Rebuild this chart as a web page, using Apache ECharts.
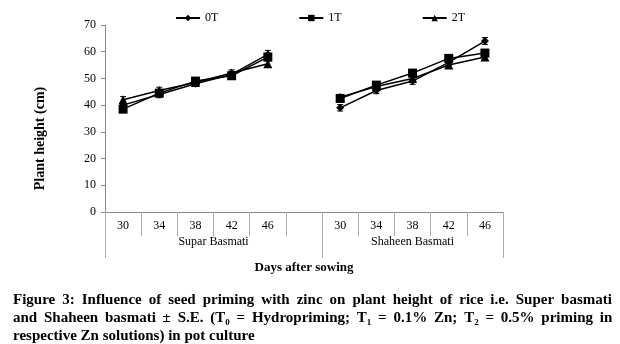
<!DOCTYPE html>
<html><head><meta charset="utf-8">
<script src="https://cdn.jsdelivr.net/npm/echarts@6/dist/echarts.min.js"></script>
<style>html,body{margin:0;padding:0;background:#fff}#c{width:620px;height:344px}</style>
</head><body><div id="c"></div>
<script>
const days = ['30','34','38','42','46'];
const groups = ['Supar Basmati','Shaheen Basmati'];
const seriesNames = ['0T','1T','2T'];
// Super Basmati
const super0T = [40.0, 44.0, 48.0, 51.5, 59.0];
const super1T = [38.5, 44.5, 49.0, 51.0, 58.0];
const super2T = [42.0, 45.5, 48.5, 52.0, 55.5];
// Shaheen Basmati
const shaheen0T = [39.0, 45.5, 49.0, 56.0, 64.0];
const shaheen1T = [42.5, 47.5, 52.0, 57.5, 59.5];
const shaheen2T = [43.0, 47.0, 50.0, 55.0, 58.0];
// standard errors
const superErr0T = [1.2, 1.2, 1.0, 1.2, 1.5];
const superErr1T = [1.0, 1.0, 1.0, 1.0, 1.3];
const superErr2T = [1.2, 1.2, 1.2, 1.2, 1.0];
const shaheenErr0T = [1.2, 1.2, 1.2, 1.2, 1.3];
const shaheenErr1T = [1.2, 1.0, 1.0, 1.2, 1.2];
const shaheenErr2T = [1.0, 1.2, 1.0, 1.2, 1.0];
const yTicks = [0,10,20,30,40,50,60,70];

const categories = days.concat([''], days);
const join = (a, b) => a.concat([null], b);
const vals = [join(super0T, shaheen0T), join(super1T, shaheen1T), join(super2T, shaheen2T)];
const errs = [join(superErr0T, shaheenErr0T), join(superErr1T, shaheenErr1T), join(superErr2T, shaheenErr2T)];
const symbols = ['diamond','rect','triangle'];
const symbolSizes = [8, 9, 9];
const font = 'Liberation Serif';

const series = [];
seriesNames.forEach((n, k) => {
  series.push({
    name: n, type: 'line', data: vals[k].map(v => v === null ? '-' : v),
    symbol: symbols[k], symbolSize: symbolSizes[k], connectNulls: false,
    lineStyle: {color: '#000', width: 1.5}, itemStyle: {color: '#000'},
    emphasis: {disabled: true}, z: 3
  });
  const ed = [];
  vals[k].forEach((v, i) => { if (v !== null) ed.push([i, v, errs[k][i]]); });
  series.push({
    type: 'custom', name: n + ' err', data: ed, z: 2,
    renderItem: (params, api) => {
      const i = api.value(0), v = api.value(1), e = api.value(2);
      const hi = api.coord([i, v + e]), lo = api.coord([i, v - e]);
      const w = 3;
      return {type: 'group', children: [
        {type: 'line', shape: {x1: hi[0], y1: hi[1], x2: lo[0], y2: lo[1]}, style: {stroke: '#000', lineWidth: 1}},
        {type: 'line', shape: {x1: hi[0]-w, y1: hi[1], x2: hi[0]+w, y2: hi[1]}, style: {stroke: '#000', lineWidth: 1}},
        {type: 'line', shape: {x1: lo[0]-w, y1: lo[1], x2: lo[0]+w, y2: lo[1]}, style: {stroke: '#000', lineWidth: 1}}
      ]};
    }
  });
});

// caption, justified lines use widened spaces
const SP = '{sp| }';
const line1 = 'Figure 3: Influence of seed priming with zinc on plant height of rice i.e. Super basmati'
  .split(' ').map(w => '{b|' + w + '}').join(SP);
const line2parts = ['and', 'Shaheen', 'basmati', '±', 'S.E.', '(T{s|0}', '=', 'Hydropriming;', 'T{s|1}', '=', '0.1%', 'Zn;', 'T{s|2}', '=', '0.5%', 'priming', 'in'];
const line2 = line2parts.map(w => {
  const m = w.match(/^(.*)\{s\|(\d)\}$/);
  return m ? '{b|' + m[1] + '}{s|' + m[2] + '}' : '{b|' + w + '}';
}).join('{sp2| }');
const line3 = '{b|respective Zn solutions) in pot culture}';

const chart = echarts.init(document.getElementById('c'), null, {renderer: 'canvas'});
chart.setOption({
  animation: false,
  backgroundColor: '#fff',
  textStyle: {fontFamily: font, color: '#000'},
  title: {
    left: 8, top: 286,
    text: line1 + '\n' + line2 + '\n' + line3,
    textStyle: {
      rich: {
        b: {fontFamily: font, fontWeight: 'bold', fontSize: 15, color: '#000', lineHeight: 18},
        sp: {fontFamily: font, fontWeight: 'bold', fontSize: 15, color: '#000', lineHeight: 18, width: 7},
        sp2: {fontFamily: font, fontWeight: 'bold', fontSize: 15, color: '#000', lineHeight: 18, width: 6.8},
        s: {fontFamily: font, fontWeight: 'bold', fontSize: 9, color: '#000', lineHeight: 18, verticalAlign: 'bottom', padding: [6,0,0,0]}
      }
    }
  },
  legend: {
    data: seriesNames, left: 170, top: 7, itemWidth: 24, itemHeight: 8, itemGap: 80,
    textStyle: {fontFamily: font, fontSize: 12, color: '#000'}
  },
  grid: {left: 105, right: 117, top: 25, bottom: 132, containLabel: false},
  xAxis: [
    {
      type: 'category', data: categories, boundaryGap: true,
      axisLine: {lineStyle: {color: '#888', width: 1}},
      axisTick: {show: true, interval: 0, length: 24, lineStyle: {color: '#aaa'}},
      axisLabel: {interval: 0, margin: 8, fontFamily: font, fontSize: 12, color: '#000'}
    },
    {
      type: 'value', min: 0, max: 11, position: 'bottom',
      axisLine: {show: false},
      splitLine: {show: false},
      axisTick: {show: true, customValues: [0, 6, 11], length: 46, lineStyle: {color: '#aaa'}},
      axisLabel: {customValues: [3, 8.5], margin: 24, fontFamily: font, fontSize: 12, color: '#000',
        formatter: v => v < 6 ? groups[0] : groups[1]},
      name: 'Days after sowing', nameLocation: 'middle', nameGap: 49,
      nameTextStyle: {fontFamily: font, fontWeight: 'bold', fontSize: 13, color: '#000', padding: [0, 0, 0, 0]}
    }
  ],
  yAxis: {
    type: 'value', min: yTicks[0], max: yTicks[yTicks.length-1], interval: 10,
    axisLine: {show: true, lineStyle: {color: '#888'}},
    axisTick: {show: true, length: 4, lineStyle: {color: '#888'}},
    splitLine: {show: false},
    axisLabel: {margin: 9, fontFamily: font, fontSize: 12, color: '#000'},
    name: 'Plant height (cm)', nameLocation: 'middle', nameGap: 58, nameRotate: 90,
    nameTextStyle: {fontFamily: font, fontWeight: 'bold', fontSize: 14, color: '#000', padding: [0, 40, 0, 0]}
  },
  series: series
});
</script></body></html>
